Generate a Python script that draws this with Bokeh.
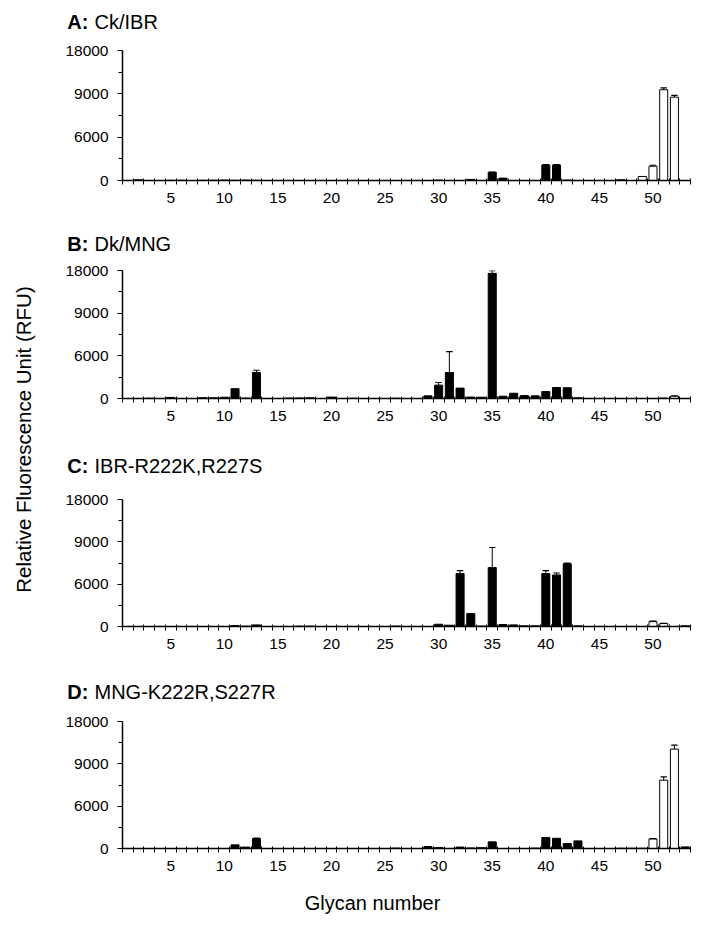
import numpy as np
from bokeh.plotting import figure
from bokeh.layouts import row, column
from bokeh.models import FixedTicker, Label, Range1d, ColumnDataSource
from bokeh.embed import file_html
from bokeh.resources import INLINE

FONT = "Liberation Sans"

# ---------------- data ----------------
glycans = list(range(1, 54))
x_tick_labels = [5, 10, 15, 20, 25, 30, 35, 40, 45, 50]
y_tick_values = [0, 6000, 9000, 18000]
panel_letters = ["A:", "B:", "C:", "D:"]
panel_names = ["Ck/IBR", "Dk/MNG", "IBR-R222K,R227S", "MNG-K222R,S227R"]
open_glycans = [48, 49, 50, 51, 52]

#             1    2    3    4    5    6    7    8    9   10   11   12   13   14   15   16   17   18   19   20
ck_ibr = [    0, 100,   0,   0,  30,  30,   0,  30,  30,  60,  30,  60,  30,   0,   0,   0,   0,   0,   0,   0,
              0,   0,   0,   0,   0,   0,   0,   0,   0,  60,   0,   0, 150,   0,1140, 330,   0,   0,   0,2150,
           2150,  60,   0,   0,   0,   0, 100,   0, 560,1980,9850,8770,   0]
ck_ibr_err = [0]*34 + [30, 0, 0, 0, 0, 40, 40, 0, 0, 0, 0, 0, 0, 0, 0, 130, 400, 120, 0]

dk_mng = [    0,   0,  40,   0, 150,   0,   0, 120, 100, 180,1380,  60,3650,   0,   0,  60,  80, 100,   0, 200,
              0,  40,   0,   0,   0,  40,   0,   0, 370,1880,3650,1460, 200, 180,17400, 320, 740, 410, 370, 970,
           1550,1520, 100,   0,   0,   0,   0,   0,   0,   0,  60, 330,   0]
dk_mng_err = [0]*12 + [320] + [0]*16 + [370, 2650] + [0]*3 + [550] + [0]*16 + [60, 0]

ibr_mut = [   0,   0,   0,   0,   0,   0,   0,   0,   0,   0, 140,  50, 230,   0,   0,   0,  50,  50,   0,   0,
              0,   0,   0,   0,   0,  60,   0,   0,   0, 320, 180,6750,1830,  60,7180, 280, 230, 100, 100,6750,
           6650,7450, 100,   0,   0,   0,   0,   0,   0, 690, 415,   0, 100]
ibr_mut_err = [0]*31 + [215, 0, 0, 1420] + [0]*4 + [215, 140, 50] + [0]*7 + [80, 40, 0, 0]

mng_mut = [   0,   0,   0,   0,   0,   0,   0,   0,   0,   0, 515, 200,1400,   0,   0,   0,   0,   0,   0,   0,
              0,   0,   0,   0,   0,  60,   0,   0, 280, 150,   0, 200,  80, 120, 940,   0,   0,   0,  60,1550,
           1450, 700,1080,   0,   0,   0,  40,  40,  40,1360,7840,12130, 230]
mng_mut_err = [0]*12 + [60] + [0]*36 + [40, 230, 850, 0]

panels = [
    (ck_ibr, ck_ibr_err),
    (dk_mng, dk_mng_err),
    (ibr_mut, ibr_mut_err),
    (mng_mut, mng_mut_err),
]

# broken (piecewise) value axis: 0-6000, 6000-9000, 9000-18000 drawn as equal segments
def scale(v):
    return np.interp(np.asarray(v, dtype=float), y_tick_values, [0, 1, 2, 3])

# geometry per panel: (title strip height, title text y in strip, frame height, bottom border)
geom = [
    (40, 18.3, 130, 45),
    (35, 16.7, 128, 42),
    (49, 24.0, 127, 39),
    (46, 20.0, 127, 30),
]

YL_W = 48
FRAME_W = 568
LEFT = 74
RIGHT = 6
COL_W = LEFT + FRAME_W + RIGHT


def blank(width, height):
    f = figure(width=width, height=height, min_border=0,
               min_border_left=0, min_border_right=0, min_border_top=0, min_border_bottom=0,
               x_range=Range1d(0, width), y_range=Range1d(0, height),
               x_axis_type=None, y_axis_type=None,
               output_backend="svg", toolbar_location=None)
    f.outline_line_color = None
    f.grid.visible = False
    f.background_fill_color = "white"
    f.border_fill_color = "white"
    if hasattr(f, "frame_align"):
        f.frame_align = False
    return f


items = []
for i, ((vals, errs), (th, ty, fh, bb)) in enumerate(zip(panels, geom)):
    # title strip: bold letter + normal name
    t = blank(COL_W, th)
    t.add_layout(Label(x=66.7 - YL_W, y=ty, text=panel_letters[i],
                       text_font=FONT, text_font_size="20px", text_font_style="bold",
                       text_baseline="middle", text_align="left", text_color="black"))
    t.add_layout(Label(x=94.0 - YL_W, y=ty, text=panel_names[i],
                       text_font=FONT, text_font_size="20px",
                       text_baseline="middle", text_align="left", text_color="black"))
    items.append(t)

    p = figure(frame_width=FRAME_W, frame_height=fh, min_border_left=LEFT, min_border_right=RIGHT,
               min_border_top=10, min_border_bottom=bb,
               x_range=Range1d(0.5, 53.5), y_range=Range1d(0, 3),
               output_backend="svg", toolbar_location=None)
    p.outline_line_color = None
    p.grid.visible = False
    p.background_fill_color = "white"
    p.border_fill_color = "white"

    vals = np.array(vals, dtype=float)
    errs = np.array(errs, dtype=float)
    g = np.array(glycans)
    is_open = np.isin(g, open_glycans)
    fill = np.where(is_open, "white", "black")
    src = ColumnDataSource(dict(x=g, top=scale(vals), fill=fill))
    p.vbar(x="x", top="top", bottom=0, width=0.75, fill_color="fill",
           line_color="black", line_width=1, source=src)

    m = errs > 0
    ex = g[m]
    y0 = scale(vals[m])
    y1 = scale(vals[m] + errs[m])
    p.segment(x0=ex, y0=y0, x1=ex, y1=y1, line_color="black", line_width=1)
    p.segment(x0=ex - 0.3, y0=y1, x1=ex + 0.3, y1=y1, line_color="black", line_width=1.2)

    # x axis
    xa = p.xaxis[0]
    xa.ticker = FixedTicker(ticks=x_tick_labels, minor_ticks=[k + 0.5 for k in range(0, 54)])
    xa.major_tick_out = 0
    xa.major_tick_in = 0
    xa.minor_tick_out = 4
    xa.minor_tick_in = 2
    xa.minor_tick_line_color = "black"
    xa.axis_line_color = "black"
    xa.axis_line_width = 1.5
    xa.major_label_standoff = 8
    xa.major_label_text_font = FONT
    xa.major_label_text_font_size = "15.5px"
    xa.major_label_text_color = "black"

    # y axis
    ya = p.yaxis[0]
    ya.ticker = FixedTicker(ticks=[0, 1, 2, 3], minor_ticks=[0.5, 1.5, 2.5])
    ya.major_label_overrides = {0: "0", 1: "6000", 2: "9000", 3: "18000"}
    ya.major_tick_out = 5
    ya.major_tick_in = 0
    ya.minor_tick_out = 4
    ya.minor_tick_in = 0
    ya.major_tick_line_color = "black"
    ya.minor_tick_line_color = "black"
    ya.axis_line_color = "black"
    ya.axis_line_width = 1.5
    ya.major_label_standoff = 9
    ya.major_label_text_font = FONT
    ya.major_label_text_font_size = "15.5px"
    ya.major_label_text_color = "black"
    items.append(p)

# x-axis title strip
xl = blank(COL_W, 40)
xl.add_layout(Label(x=372 - YL_W, y=16, text="Glycan number",
                    text_font=FONT, text_font_size="20px",
                    text_baseline="middle", text_align="center", text_color="black"))
items.append(xl)

TOTAL_H = 918
yl = blank(YL_W, TOTAL_H)
yl.add_layout(Label(x=22.5, y=TOTAL_H - 439, text="Relative Fluorescence Unit (RFU)",
                    angle=np.pi / 2, text_font=FONT, text_font_size="20.5px",
                    text_align="center", text_baseline="middle", text_color="black"))

layout = row(yl, column(*items, spacing=0), spacing=0)

with open("out.html", "w") as f:
    f.write(file_html(layout, INLINE))
